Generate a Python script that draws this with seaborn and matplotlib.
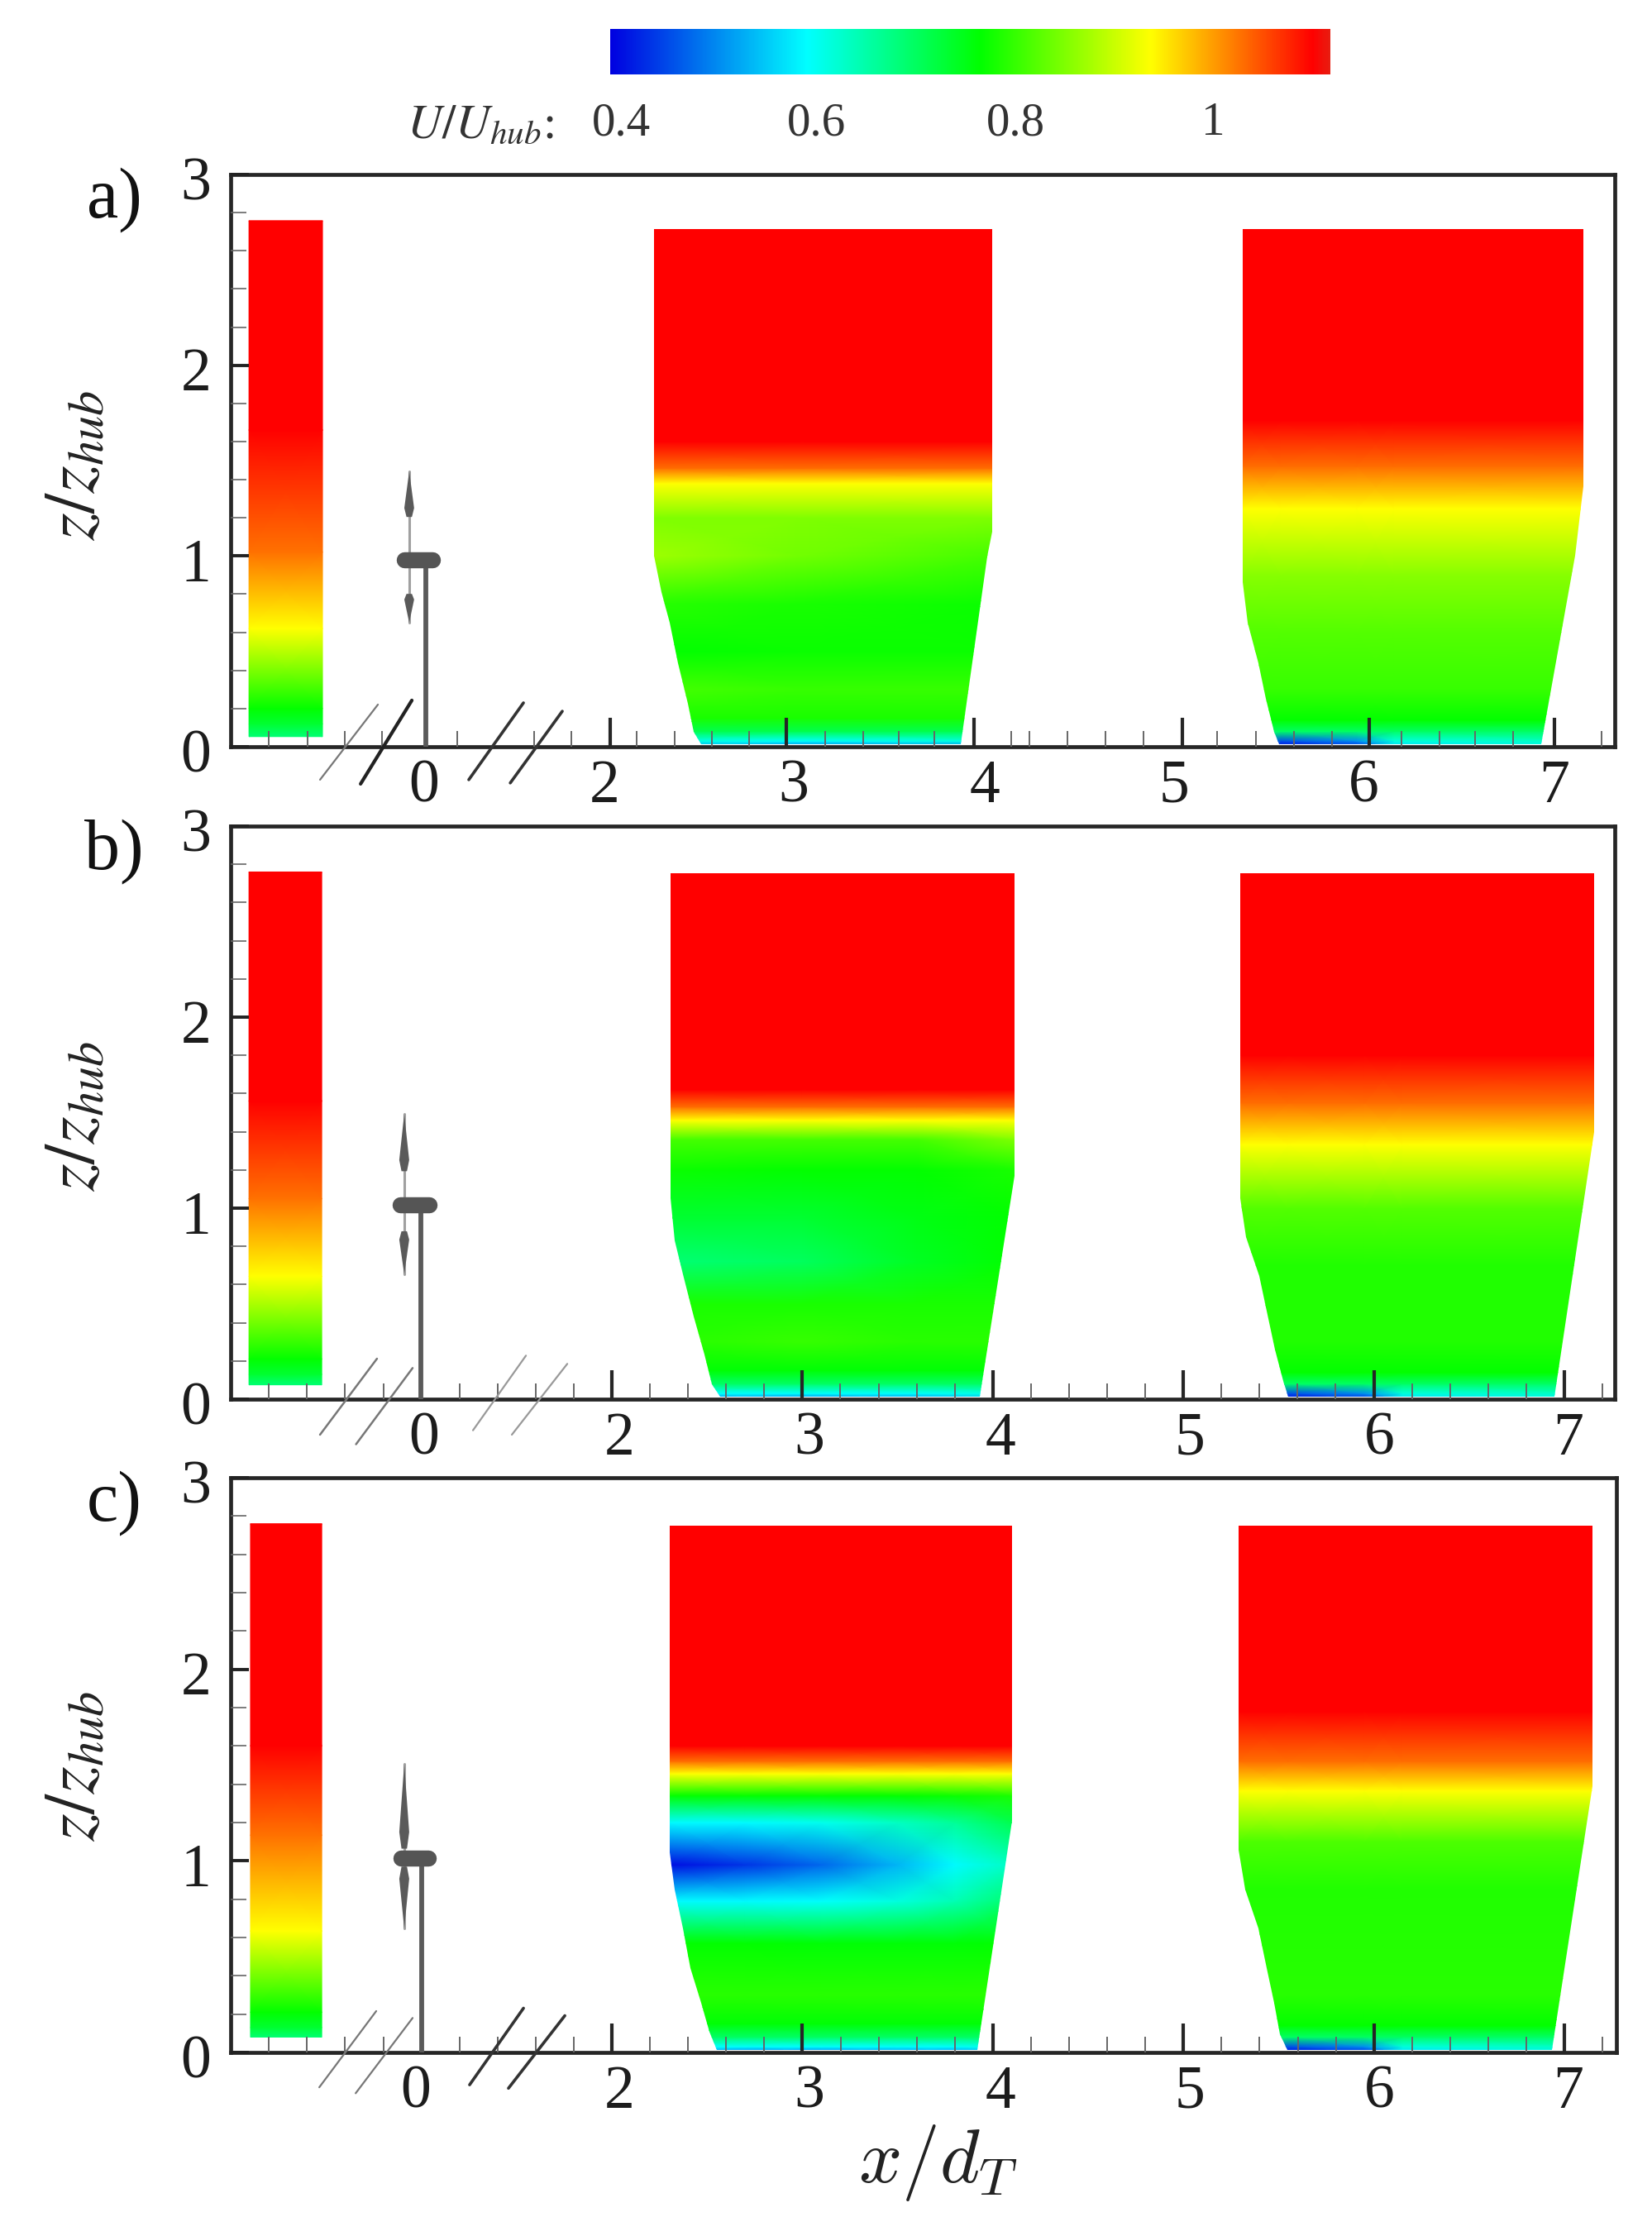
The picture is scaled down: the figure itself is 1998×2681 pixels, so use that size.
import numpy as np
import matplotlib
matplotlib.use("Agg")
import matplotlib.pyplot as plt
from matplotlib.colors import LinearSegmentedColormap
from matplotlib.patches import Polygon
import matplotlib.transforms as mtrans
import seaborn as sns

W, H = 1998, 2681
VMIN, VMAX = 0.389, 1.118
cmap = LinearSegmentedColormap.from_list(
    "tec", [(0.0, "#0000e0"), (0.273, "#00ffff"), (0.514, "#00ff00"), (0.751, "#ffff00"), (0.976, "#ff0000"), (1.0, "#e81c10")], N=1024)

# ---------- axis data ----------
y_major = [0, 1, 2, 3]
y_minor = [0.2, 0.4, 0.6, 0.8, 1.2, 1.4, 1.6, 1.8, 2.2, 2.4, 2.6, 2.8]
x_labels = ["0", "2", "3", "4", "5", "6", "7"]

a_xlim = (-0.022, 7.32)
a_major = [1.991, 2.925, 3.921, 5.026, 6.018, 7.0]
a_minor = [0.18, 0.386, 0.583, 0.78, 1.18, 1.588, 1.785, 2.13, 2.333, 2.53, 2.73, 3.13, 3.335, 3.52, 3.71,
           4.118, 4.215, 4.417, 4.618, 4.82, 5.21, 5.417, 5.618, 5.82, 6.19, 6.39, 6.58, 6.78, 7.25]
a_label_pos = [1.004, 1.961, 2.965, 3.978, 4.982, 5.987, 7.0]

bc_major = [2, 3, 4, 5, 6, 7]
bc_minor = [0.2, 0.4, 0.6, 0.8, 1.2, 1.4, 1.6, 1.8, 2.2, 2.4, 2.6, 2.8, 3.2, 3.4, 3.6, 3.8, 4.2, 4.4, 4.6, 4.8,
            5.2, 5.4, 5.6, 5.8, 6.2, 6.4, 6.6, 6.8, 7.2]
b_xlim = (-0.001, 7.265)
c_xlim = (-0.001, 7.273)
b_label_pos = [1.015, 2.039, 3.037, 4.04, 5.034, 6.028, 7.02]
c_label_pos = [0.971, 2.039, 3.037, 4.04, 5.034, 6.028, 7.02]

# ---------- inflow profiles ----------
a_in_x = [0.075, 0.465]
a_in_z = [0.053, 0.12, 0.2, 0.62, 1.02, 1.66, 2.758]
b_in_x = [0.095, 0.477]
b_in_z = [0.075, 0.13, 0.21, 0.643, 1.05, 1.56, 2.76]
c_in_x = [0.103, 0.477]
c_in_z = [0.08, 0.13, 0.21, 0.634, 1.134, 1.6, 2.76]
in_u = [0.685, 0.73, 0.765, 0.936, 1.027, 1.10, 1.10]

# ---------- panel a, window 1 ----------
a1_x = [2.224, 3.0, 4.018]
a1_z = [0.0, 0.03, 0.08, 0.15, 0.3, 0.5, 0.75, 1.0, 1.2, 1.38, 1.46, 1.6, 2.713]
a1_u = [[0.55, 0.61, 0.71, 0.78, 0.81, 0.765, 0.79, 0.87, 0.85, 0.936, 1.03, 1.10, 1.10],
        [0.48, 0.59, 0.71, 0.78, 0.80, 0.77, 0.78, 0.84, 0.85, 0.936, 1.03, 1.10, 1.10],
        [0.50, 0.61, 0.71, 0.78, 0.80, 0.77, 0.77, 0.81, 0.85, 0.936, 1.03, 1.10, 1.10]]
a1_edge_x = [2.224, 2.224, 2.263, 2.307, 2.351, 2.404, 2.434, 2.474, 3.851, 3.99, 4.018, 4.018]
a1_edge_z = [2.713, 1.0, 0.81, 0.65, 0.438, 0.226, 0.08, 0.013, 0.013, 0.995, 1.128, 2.713]

# ---------- panel a, window 2 ----------
a2_x = [5.347, 5.55, 5.95, 6.15, 7.154]
a2_z = [0.0, 0.03, 0.08, 0.14, 0.3, 0.6, 0.9, 1.248, 1.47, 1.71, 2.713]
a2_u = [[0.60, 0.63, 0.695, 0.765, 0.80, 0.82, 0.855, 0.936, 1.03, 1.10, 1.10],
        [0.40, 0.45, 0.695, 0.765, 0.80, 0.82, 0.855, 0.936, 1.03, 1.10, 1.10],
        [0.42, 0.50, 0.695, 0.765, 0.80, 0.82, 0.855, 0.936, 1.03, 1.10, 1.10],
        [0.56, 0.61, 0.695, 0.765, 0.80, 0.82, 0.855, 0.936, 1.03, 1.10, 1.10],
        [0.60, 0.63, 0.695, 0.765, 0.80, 0.82, 0.855, 0.936, 1.03, 1.10, 1.10]]
a2_edge_x = [5.347, 5.347, 5.373, 5.43, 5.47, 5.513, 5.54, 6.93, 7.11, 7.154, 7.154]
a2_edge_z = [2.713, 0.863, 0.65, 0.438, 0.25, 0.08, 0.013, 0.013, 1.0, 1.367, 2.713]

# ---------- panel b, window 1 ----------
b1_x = [2.308, 3.0, 3.6, 4.114]
b1_z = [0.0, 0.03, 0.08, 0.15, 0.3, 0.5, 0.72, 0.95, 1.2, 1.36, 1.46, 1.53, 1.62, 2.752]
b1_u = [[0.50, 0.59, 0.695, 0.76, 0.79, 0.78, 0.685, 0.73, 0.77, 0.81, 0.936, 1.03, 1.10, 1.10],
        [0.48, 0.59, 0.695, 0.76, 0.80, 0.78, 0.70, 0.73, 0.765, 0.81, 0.936, 1.03, 1.10, 1.10],
        [0.50, 0.59, 0.695, 0.76, 0.79, 0.78, 0.74, 0.75, 0.765, 0.81, 0.936, 1.03, 1.10, 1.10],
        [0.55, 0.61, 0.695, 0.76, 0.79, 0.78, 0.765, 0.765, 0.78, 0.85, 0.936, 1.03, 1.10, 1.10]]
b1_edge_x = [2.308, 2.308, 2.33, 2.373, 2.43, 2.484, 2.525, 2.567, 3.93, 4.114, 4.114]
b1_edge_z = [2.752, 1.05, 0.83, 0.654, 0.433, 0.234, 0.08, 0.013, 0.013, 1.17, 2.752]

# ---------- panel b, window 2 ----------
b2_x = [5.30, 5.55, 5.95, 6.15, 7.157]
b2_z = [0.0, 0.03, 0.08, 0.14, 0.3, 0.7, 1.0, 1.333, 1.55, 1.8, 2.752]
b2_u = [[0.60, 0.63, 0.695, 0.765, 0.785, 0.785, 0.82, 0.936, 1.03, 1.10, 1.10],
        [0.40, 0.45, 0.695, 0.765, 0.785, 0.785, 0.82, 0.936, 1.03, 1.10, 1.10],
        [0.42, 0.50, 0.695, 0.765, 0.785, 0.785, 0.82, 0.936, 1.03, 1.10, 1.10],
        [0.56, 0.61, 0.695, 0.765, 0.785, 0.785, 0.82, 0.936, 1.03, 1.10, 1.10],
        [0.60, 0.63, 0.695, 0.765, 0.785, 0.785, 0.82, 0.936, 1.03, 1.10, 1.10]]
b2_edge_x = [5.30, 5.30, 5.33, 5.40, 5.44, 5.48, 5.525, 5.55, 6.95, 7.157, 7.157]
b2_edge_z = [2.752, 1.05, 0.85, 0.647, 0.44, 0.26, 0.095, 0.013, 0.013, 1.4, 2.752]

# ---------- panel c, window 1 ----------
c1_x = [2.304, 2.7, 3.1, 3.5, 3.8, 4.10]
c1_z = [0.0, 0.03, 0.08, 0.15, 0.3, 0.57, 0.79, 0.98, 1.2, 1.34, 1.455, 1.52, 1.6, 2.75]
c1_u = [[0.50, 0.59, 0.695, 0.76, 0.79, 0.765, 0.585, 0.40, 0.585, 0.765, 0.936, 1.03, 1.10, 1.10],
        [0.48, 0.59, 0.695, 0.76, 0.79, 0.765, 0.585, 0.43, 0.585, 0.765, 0.936, 1.03, 1.10, 1.10],
        [0.48, 0.59, 0.695, 0.76, 0.79, 0.76, 0.59, 0.47, 0.60, 0.765, 0.936, 1.03, 1.10, 1.10],
        [0.50, 0.59, 0.695, 0.76, 0.79, 0.76, 0.61, 0.53, 0.63, 0.765, 0.936, 1.03, 1.10, 1.10],
        [0.50, 0.59, 0.695, 0.76, 0.79, 0.76, 0.64, 0.585, 0.66, 0.77, 0.936, 1.03, 1.10, 1.10],
        [0.55, 0.61, 0.695, 0.76, 0.79, 0.765, 0.69, 0.63, 0.71, 0.78, 0.936, 1.03, 1.10, 1.10]]
c1_edge_x = [2.304, 2.304, 2.33, 2.373, 2.414, 2.469, 2.51, 2.55, 3.92, 4.10, 4.10]
c1_edge_z = [2.75, 1.044, 0.85, 0.647, 0.44, 0.26, 0.11, 0.013, 0.013, 1.21, 2.75]

# ---------- panel c, window 2 ----------
c2_x = [5.29, 5.55, 5.95, 6.15, 7.148]
c2_z = [0.0, 0.03, 0.08, 0.14, 0.3, 0.85, 1.1, 1.365, 1.52, 1.78, 2.75]
c2_u = [[0.60, 0.63, 0.695, 0.765, 0.79, 0.785, 0.815, 0.936, 1.03, 1.10, 1.10],
        [0.40, 0.45, 0.695, 0.765, 0.79, 0.785, 0.815, 0.936, 1.03, 1.10, 1.10],
        [0.42, 0.50, 0.695, 0.765, 0.79, 0.785, 0.815, 0.936, 1.03, 1.10, 1.10],
        [0.56, 0.61, 0.695, 0.765, 0.79, 0.785, 0.815, 0.936, 1.03, 1.10, 1.10],
        [0.60, 0.63, 0.695, 0.765, 0.79, 0.785, 0.815, 0.936, 1.03, 1.10, 1.10]]
c2_edge_x = [5.29, 5.29, 5.325, 5.394, 5.435, 5.477, 5.505, 5.546, 6.935, 7.148, 7.148]
c2_edge_z = [2.75, 1.057, 0.85, 0.647, 0.44, 0.26, 0.095, 0.013, 0.013, 1.39, 2.75]

# ---------- turbine & axis breaks ----------
a_tower_x, a_hub_x, a_hub_z, a_blade_x, a_blade_up, a_blade_lo = 1.013, [0.90, 1.05], 0.98, 0.925, [1.197, 1.444], [0.65, 0.806]
b_tower_x, b_hub_x, b_hub_z, b_blade_x, b_blade_up, b_blade_lo = 0.997, [0.89, 1.04], 1.016, 0.91, [1.184, 1.493], [0.654, 0.886]
c_tower_x, c_hub_x, c_hub_z, c_blade_x, c_blade_up, c_blade_lo = 1.002, [0.895, 1.035], 1.014, 0.91, [1.05, 1.506], [0.647, 0.98]

a_breaks = [([0.452, 0.759], [-0.173, 0.221]), ([0.667, 0.939], [-0.195, 0.243]),
            ([1.241, 1.531], [-0.173, 0.23]), ([1.461, 1.737], [-0.19, 0.186])]
b_breaks = [([0.468, 0.767], [-0.186, 0.212]), ([0.657, 0.954], [-0.236, 0.163]),
            ([1.271, 1.549], [-0.163, 0.228]), ([1.475, 1.766], [-0.186, 0.185])]
c_breaks = [([0.464, 0.763], [-0.182, 0.216]), ([0.655, 0.954], [-0.213, 0.18]),
            ([1.253, 1.536], [-0.169, 0.231]), ([1.457, 1.753], [-0.187, 0.192])]
a_break_styles = [("#777777", 1.6), ("#222222", 3.0), ("#333333", 2.6), ("#333333", 2.6)]
b_break_styles = [("#777777", 1.8), ("#777777", 1.8), ("#999999", 1.6), ("#999999", 1.6)]
c_break_styles = [("#777777", 1.6), ("#777777", 1.6), ("#333333", 2.6), ("#333333", 2.6)]

# ---------- figure ----------
sns.set_theme(style="ticks")
plt.rcParams["font.family"] = ["Liberation Serif", "DejaVu Serif"]
plt.rcParams["mathtext.fontset"] = "stix"

fig = plt.figure(figsize=(W / 100, H / 100), dpi=100, facecolor="white")


def box(l, t, r, b):
    return [l / W, 1 - b / H, (r - l) / W, (b - t) / H]


def fx(p):
    return p / W


def fy(p):
    return 1 - p / H


def field(ax, x, z, u, ex=None, ez=None):
    grid = np.array(u).T
    m = ax.pcolormesh(x, z, grid, shading="gouraud", cmap=cmap, vmin=VMIN, vmax=VMAX, zorder=1)
    if ex is not None:
        m.set_clip_path(Polygon(np.column_stack([ex, ez]), closed=True, transform=ax.transData))


def panel(rect, xlim, major, minor, lab_pos, in_x, in_z, fields, tower_x, hub_x, hub_z,
          blade_x, blade_up, blade_lo, breaks, break_styles):
    ax = fig.add_axes(box(*rect))
    ax.set_xlim(*xlim)
    ax.set_ylim(0, 3)
    ax.set_facecolor("white")
    ax.set_axisbelow(False)
    for s in ax.spines.values():
        s.set_linewidth(3.4)
        s.set_color("#262626")
    ax.set_xticks(major)
    ax.set_xticks(minor, minor=True)
    ax.set_yticks(y_major)
    ax.set_yticks(y_minor, minor=True)
    ax.set_xticklabels([])
    ax.set_yticklabels(["0", "1", "2", "3"], fontsize=53, color="#1c1c1c")
    ax.tick_params(axis="x", which="major", direction="in", length=25, width=3, color="#262626", bottom=True)
    ax.tick_params(axis="x", which="minor", direction="in", length=14, width=1.4, color="#666666", bottom=True)
    ax.tick_params(axis="y", which="major", direction="in", length=16, width=2.8, color="#222222", left=True, pad=17)
    ax.tick_params(axis="y", which="minor", direction="in", length=14, width=1.2, color="#666666", left=True)
    for t in ax.get_yticklabels():
        t.set_transform(t.get_transform() + mtrans.ScaledTranslation(0, -5 / 100, fig.dpi_scale_trans))

    sec = ax.secondary_xaxis("bottom")
    sec.set_xticks(lab_pos)
    sec.set_xticklabels(x_labels, fontsize=53, color="#1c1c1c")
    sec.tick_params(axis="x", length=0, pad=11)
    sec.spines["bottom"].set_visible(False)

    field(ax, in_x, in_z, [in_u, in_u])
    for f in fields:
        field(ax, *f)

    sns.lineplot(x=[tower_x, tower_x], y=[0, hub_z], ax=ax, color="#5a5a5a", linewidth=4.2,
                 estimator=None, sort=False, legend=False, zorder=3)
    sns.lineplot(x=hub_x, y=[hub_z, hub_z], ax=ax, color="#555555", linewidth=14,
                 estimator=None, sort=False, legend=False, zorder=4, solid_capstyle="round")
    hw = 0.026
    ax.plot([blade_x, blade_x], [blade_lo[0], blade_up[1]], color="#a0a0a0", lw=2.2, zorder=2.5)
    for root, tip in ((blade_up[0], blade_up[1]), (blade_lo[1], blade_lo[0])):
        z_wide = root + 0.22 * (tip - root)
        z_root = root + 0.03 * (tip - root)
        ax.fill([blade_x - hw * 0.55, blade_x - hw, blade_x, blade_x + hw, blade_x + hw * 0.55],
                [z_root, z_wide, tip, z_wide, z_root], color="#5a5a5a", lw=0, zorder=3)
    for (bx, bz), (col, lw) in zip(breaks, break_styles):
        sns.lineplot(x=bx, y=bz, ax=ax, color=col, linewidth=lw, estimator=None, sort=False,
                     legend=False, clip_on=False, zorder=5)
    ax.set_xlabel("")
    ax.set_ylabel("")
    return ax


panel((279, 211, 1953, 903), a_xlim, a_major, a_minor, a_label_pos, a_in_x, a_in_z,
      [(a1_x, a1_z, a1_u, a1_edge_x, a1_edge_z), (a2_x, a2_z, a2_u, a2_edge_x, a2_edge_z)],
      a_tower_x, a_hub_x, a_hub_z, a_blade_x, a_blade_up, a_blade_lo, a_breaks, a_break_styles)
panel((279, 999, 1953, 1692), b_xlim, bc_major, bc_minor, b_label_pos, b_in_x, b_in_z,
      [(b1_x, b1_z, b1_u, b1_edge_x, b1_edge_z), (b2_x, b2_z, b2_u, b2_edge_x, b2_edge_z)],
      b_tower_x, b_hub_x, b_hub_z, b_blade_x, b_blade_up, b_blade_lo, b_breaks, b_break_styles)
panel((279, 1787, 1955, 2482), c_xlim, bc_major, bc_minor, c_label_pos, c_in_x, c_in_z,
      [(c1_x, c1_z, c1_u, c1_edge_x, c1_edge_z), (c2_x, c2_z, c2_u, c2_edge_x, c2_edge_z)],
      c_tower_x, c_hub_x, c_hub_z, c_blade_x, c_blade_up, c_blade_lo, c_breaks, c_break_styles)

# colour bar
cax = fig.add_axes(box(738, 35, 1609, 90))
sns.heatmap(np.linspace(VMIN, VMAX, 512)[None, :], ax=cax, cmap=cmap, vmin=VMIN, vmax=VMAX, cbar=False,
            xticklabels=False, yticklabels=False)
for val, px in zip(["0.4", "0.6", "0.8", "1"], [751, 988, 1228, 1467]):
    fig.text(fx(px), fy(149), val, fontsize=41, color="#333333", ha="center", va="center")
fig.text(fx(581), fy(153), r"$U/U_{hub}$:", fontsize=42, color="#333333", ha="center", va="center")

# panel tags and axis titles
for tag, py in zip(["a)", "b)", "c)"], [242, 1030, 1818]):
    fig.text(fx(138), fy(py), tag, fontsize=62, color="#111111", ha="center", va="center")
for py in [563, 1350, 2136]:
    fig.text(fx(93), fy(py), r"$z/z_{hub}$", fontsize=62, color="#222222", rotation=90, ha="center", va="center")
fig.text(fx(1135), fy(2615), r"$x/d_T$", fontsize=66, color="#222222", ha="center", va="center", math_fontfamily="cm")

fig.savefig("out.png", dpi=100)
